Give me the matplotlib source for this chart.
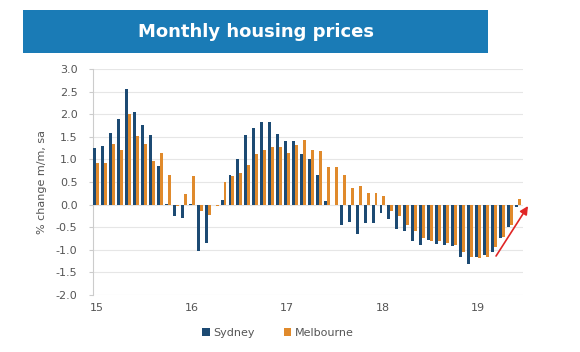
import numpy as np
import matplotlib.pyplot as plt
from matplotlib.patches import Rectangle

# monthly % change, Jan 2015 - Jun 2019
sydney = [1.25, 1.29, 1.58, 1.90, 2.55, 2.04, 1.75, 1.55, 0.86, 0.02,
          -0.26, -0.30, 0.02, -1.02, -0.86, -0.02, 0.10, 0.65, 1.01, 1.53,
          1.69, 1.83, 1.83, 1.56, 1.41, 1.40, 1.13, 1.01, 0.66, 0.09,
          -0.02, -0.46, -0.39, -0.66, -0.41, -0.41, -0.19, -0.33, -0.54, -0.59,
          -0.81, -0.89, -0.78, -0.88, -0.90, -0.92, -1.17, -1.31, -1.17, -1.12,
          -1.06, -0.75, -0.50, -0.05]
melbourne = [0.91, 0.91, 1.33, 1.21, 2.00, 1.51, 1.34, 0.97, 1.14, 0.66,
             -0.04, 0.24, 0.64, -0.15, -0.23, -0.04, 0.49, 0.63, 0.69, 0.88,
             1.12, 1.21, 1.27, 1.28, 1.14, 1.32, 1.42, 1.21, 1.18, 0.84,
             0.84, 0.66, 0.36, 0.42, 0.25, 0.25, 0.20, -0.15, -0.26, -0.46,
             -0.58, -0.75, -0.80, -0.80, -0.85, -0.90, -1.05, -1.15, -1.18, -1.17,
             -0.94, -0.72, -0.46, 0.12]
year_labels = ['15', '16', '17', '18', '19']
yticks = [-2.0, -1.5, -1.0, -0.5, 0.0, 0.5, 1.0, 1.5, 2.0, 2.5, 3.0]

navy = '#1c4a73'
orange = '#e08a2c'
grey = '#555555'

fig = plt.figure(figsize=(5.8, 3.52), dpi=100)

# title banner
fig.patches.append(Rectangle((0.040, 0.849), 0.802, 0.122, transform=fig.transFigure,
                             facecolor='#1a7bb6', edgecolor='none'))
fig.text(0.441, 0.909, 'Monthly housing prices', color='white', fontsize=13,
         fontweight='bold', ha='center', va='center')

ax = fig.add_axes([0.160, 0.162, 0.742, 0.642])
x = np.arange(len(sydney))
w = 0.37
ax.bar(x - w / 2, sydney, width=w, color=navy, label='Sydney', zorder=3)
ax.bar(x + w / 2, melbourne, width=w, color=orange, label='Melbourne', zorder=3)

ax.set_xlim(-0.45, 53.7)
ax.set_ylim(-2.0, 3.0)
ax.set_yticks(yticks)
ax.set_yticklabels([f'{v:.1f}' for v in yticks])
ax.set_xticks(np.arange(len(year_labels)) * 12)
ax.set_xticklabels(year_labels)
ax.tick_params(axis='y', length=3, color='#cccccc', labelsize=8, labelcolor=grey, pad=8)
ax.tick_params(axis='x', length=0, labelsize=8, labelcolor=grey, pad=6)
ax.grid(axis='y', color='#e6e6e6', linewidth=0.8, zorder=0)
for s in ['top', 'right', 'bottom']:
    ax.spines[s].set_visible(False)
ax.spines['left'].set_color('#cccccc')
ax.set_ylabel('% change m/m, sa', fontsize=8, color=grey, labelpad=6)

ax.annotate('', xy=(54.5, 0.02), xytext=(50.1, -1.19), annotation_clip=False,
            arrowprops=dict(arrowstyle='-|>', color='#e02626', lw=1.2, mutation_scale=12))

ax.legend(loc='upper center', bbox_to_anchor=(0.43, -0.1), ncol=2, frameon=False,
          fontsize=8, handlelength=0.7, handleheight=0.7, handletextpad=0.3,
          columnspacing=2.6, labelcolor=grey)

plt.savefig('out.png')
plt.close()
